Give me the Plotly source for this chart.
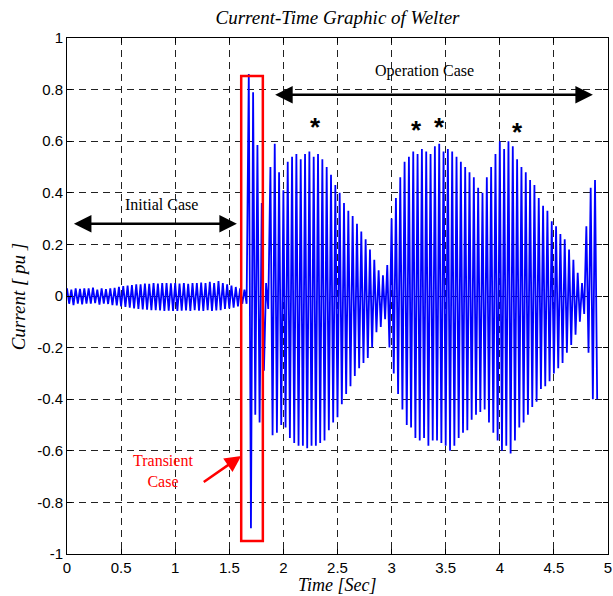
import plotly.graph_objects as go

# ---- data ----
sample_step_s = 0.02
current_pu = [
    0.03, -0.03, 0.025, -0.035, 0.03, -0.03, 0.028, -0.032, 0.03, -0.03,
    0.03, -0.03, 0.032, -0.028, 0.025, -0.033, 0.03, -0.03, 0.027, -0.031,
    0.03, -0.035, 0.032, -0.036, 0.035, -0.04, 0.038, -0.042, 0.04, -0.045,
    0.042, -0.048, 0.045, -0.05, 0.045, -0.052, 0.048, -0.053, 0.047, -0.055,
    0.05, -0.055, 0.048, -0.056, 0.05, -0.058, 0.05, -0.057, 0.049, -0.058,
    0.05, -0.058, 0.048, -0.057, 0.05, -0.056, 0.047, -0.058, 0.05, -0.055,
    0.05, -0.057, 0.052, -0.058, 0.05, -0.055, 0.055, -0.058, 0.05, -0.056,
    0.058, -0.055, 0.05, -0.05, 0.045, -0.048, 0.04, -0.045, 0.035, -0.04,
    0.03, -0.03, 0.025, -0.03, 0.86, -0.90, 0.79, -0.46, 0.585, -0.49,
    0.36, -0.29, 0.05, -0.05, 0.50, -0.54, 0.59, -0.53, 0.48, -0.50,
    0.41, -0.51, 0.52, -0.55, 0.54, -0.57, 0.55, -0.58, 0.53, -0.58,
    0.55, -0.59, 0.56, -0.58, 0.54, -0.58, 0.55, -0.57, 0.53, -0.56,
    0.50, -0.52, 0.47, -0.49, 0.43, -0.47, 0.40, -0.42, 0.36, -0.38,
    0.33, -0.35, 0.31, -0.31, 0.28, -0.28, 0.25, -0.26, 0.22, -0.24,
    0.18, -0.20, 0.14, -0.14, 0.10, -0.12, 0.08, -0.09, 0.12, -0.20,
    0.30, -0.30, 0.38, -0.38, 0.46, -0.44, 0.52, -0.50, 0.54, -0.51,
    0.56, -0.55, 0.55, -0.56, 0.57, -0.55, 0.56, -0.58, 0.55, -0.56,
    0.58, -0.56, 0.59, -0.57, 0.56, -0.58, 0.57, -0.60, 0.56, -0.58,
    0.54, -0.55, 0.52, -0.53, 0.50, -0.52, 0.48, -0.48, 0.46, -0.46,
    0.42, -0.45, 0.40, -0.44, 0.46, -0.49, 0.50, -0.53, 0.55, -0.56,
    0.60, -0.60, 0.57, -0.58, 0.60, -0.61, 0.58, -0.56, 0.53, -0.51,
    0.50, -0.49, 0.48, -0.46, 0.45, -0.43, 0.43, -0.41, 0.38, -0.36,
    0.35, -0.35, 0.33, -0.33, 0.29, -0.30, 0.27, -0.28, 0.24, -0.26,
    0.22, -0.22, 0.18, -0.19, 0.14, -0.15, 0.09, -0.10, 0.05, -0.07,
    0.27, -0.22, 0.42, -0.40, 0.45, -0.40,
]
time_s = [round(i * sample_step_s, 4) for i in range(len(current_pu))]

x_tick_vals = [0, 0.5, 1, 1.5, 2, 2.5, 3, 3.5, 4, 4.5, 5]
x_tick_text = ["0", "0.5", "1", "1.5", "2", "2.5", "3", "3.5", "4", "4.5", "5"]
y_tick_vals = [-1, -0.8, -0.6, -0.4, -0.2, 0, 0.2, 0.4, 0.6, 0.8, 1]
y_tick_text = ["-1", "-0.8", "-0.6", "-0.4", "-0.2", "0", "0.2", "0.4", "0.6", "0.8", "1"]

# annotation anchors
initial_case_span = [0.05, 1.57]
initial_case_level = 0.28
operation_case_span = [1.91, 4.86]
operation_case_level = 0.78
transient_box_x = [1.61, 1.81]
transient_box_y = [-0.95, 0.853]
star_times = [2.30, 3.23, 3.44, 4.16]
star_levels = [0.655, 0.645, 0.655, 0.635]

serif = "Liberation Serif, Times New Roman, serif"
sans = "Liberation Sans, Arial, sans-serif"

fig = go.Figure()
fig.add_trace(go.Scatter(x=time_s, y=current_pu, mode="lines",
                         line=dict(color="#0000FF", width=1.8), showlegend=False,
                         hoverinfo="skip"))

fig.add_shape(type="rect", xref="x", yref="y",
              x0=transient_box_x[0], x1=transient_box_x[1],
              y0=transient_box_y[0], y1=transient_box_y[1],
              line=dict(color="#FF0000", width=2.5))

annotations = []
annotations.append(dict(x=initial_case_span[1], y=initial_case_level,
                        ax=initial_case_span[0], ay=initial_case_level,
                        xref="x", yref="y", axref="x", ayref="y", text="",
                        showarrow=True, arrowside="end+start", arrowhead=2,
                        arrowsize=1.4, arrowwidth=2.5, arrowcolor="black"))
annotations.append(dict(x=operation_case_span[1], y=operation_case_level,
                        ax=operation_case_span[0], ay=operation_case_level,
                        xref="x", yref="y", axref="x", ayref="y", text="",
                        showarrow=True, arrowside="end+start", arrowhead=2,
                        arrowsize=1.4, arrowwidth=2.5, arrowcolor="black"))
annotations.append(dict(x=0.87, y=0.353, xref="x", yref="y", text="Initial Case",
                        showarrow=False, font=dict(family=serif, size=16, color="black")))
annotations.append(dict(x=3.30, y=0.872, xref="x", yref="y", text="Operation Case",
                        showarrow=False, font=dict(family=serif, size=16, color="black")))
annotations.append(dict(x=0.89, y=-0.68, xref="x", yref="y", text="Transient<br>Case",
                        showarrow=False, align="center",
                        font=dict(family=serif, size=16, color="#FF0000")))
annotations.append(dict(x=1.61, y=-0.62, ax=1.25, ay=-0.725,
                        xref="x", yref="y", axref="x", ayref="y", text="",
                        showarrow=True, arrowhead=2, arrowsize=1.3, arrowwidth=2.5,
                        arrowcolor="#FF0000"))
for t, v in zip(star_times, star_levels):
    annotations.append(dict(x=t, y=v, xref="x", yref="y", text="<b>*</b>",
                            showarrow=False, font=dict(family=sans, size=26, color="black")))
annotations.append(dict(x=0.5, y=-0.06, xref="paper", yref="paper", text="<i>Time [Sec]</i>",
                        showarrow=False, yanchor="middle",
                        font=dict(family=serif, size=18, color="black")))
annotations.append(dict(x=-0.09, y=0.5, xref="paper", yref="paper", text="<i>Current [ pu ]</i>",
                        showarrow=False, textangle=-90, xanchor="center",
                        font=dict(family=serif, size=19, color="black")))

grid_style = dict(showgrid=True, gridcolor="#222222", gridwidth=1, griddash="7px,5px")

fig.update_layout(
    width=613, height=596,
    margin=dict(l=67, r=5, t=38, b=42, autoexpand=False),
    paper_bgcolor="white", plot_bgcolor="white",
    title=dict(text="<i>Current-Time Graphic of Welter</i>", x=0.5, xref="paper",
               y=1 - 17 / 596, yref="container", yanchor="middle",
               font=dict(family=serif, size=19, color="black")),
    annotations=annotations,
    xaxis=dict(range=[0, 5], tickvals=x_tick_vals, ticktext=x_tick_text,
               ticks="inside", ticklen=5, tickcolor="black", showline=True,
               linecolor="black", linewidth=1, mirror="allticks", zeroline=False,
               automargin=False, ticklabeloverflow="allow",
               tickfont=dict(family=sans, size=15, color="black"), **grid_style),
    yaxis=dict(range=[-1, 1], tickvals=y_tick_vals, ticktext=y_tick_text,
               ticks="inside", ticklen=5, tickcolor="black", showline=True,
               linecolor="black", linewidth=1, mirror="allticks", zeroline=False,
               automargin=False, ticklabeloverflow="allow",
               tickfont=dict(family=sans, size=15, color="black"), **grid_style),
)

fig.write_html("out.html", config={"displayModeBar": False},
               post_script="document.body.style.margin='0';document.body.style.overflow='hidden';")
